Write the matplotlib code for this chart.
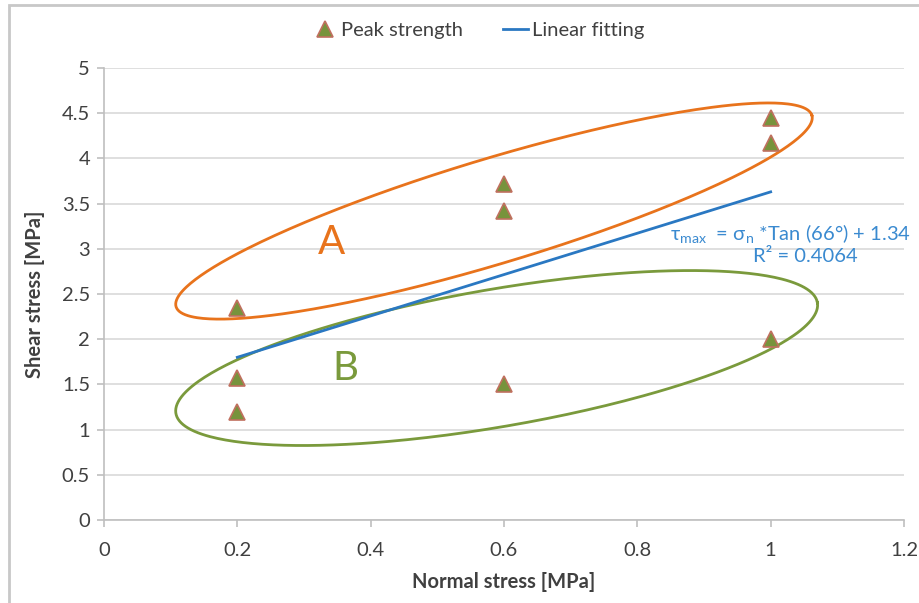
import numpy as np
import matplotlib
matplotlib.use('Agg')
import matplotlib.pyplot as plt
from matplotlib.patches import Rectangle

plt.rcParams['font.family'] = ['Lato', 'DejaVu Sans']

# =============================================================================
# Data
# =============================================================================
normal = [0.2, 0.2, 0.2, 0.6, 0.6, 0.6, 1.0, 1.0, 1.0]        # Normal stress [MPa]
shear = [2.35, 1.57, 1.20, 3.72, 3.42, 1.50, 4.45, 4.17, 2.00]  # Peak shear [MPa]

fit_x = [0.2, 1.0]    # linear fitting line ends
fit_y = [1.80, 3.63]

x_ticks = [0, 0.2, 0.4, 0.6, 0.8, 1.0, 1.2]
x_labels = ['0', '0.2', '0.4', '0.6', '0.8', '1', '1.2']
y_ticks = [0, 0.5, 1, 1.5, 2, 2.5, 3, 3.5, 4, 4.5, 5]
y_labels = ['0', '0.5', '1', '1.5', '2', '2.5', '3', '3.5', '4', '4.5', '5']

# group ellipses: centre (data), semi axes (px), angle (deg)
ellA = dict(c=(0.585, 3.418), a=332, b=52.5, ang=16.75)
ellB = dict(c=(0.589, 1.792), a=325.5, b=68.7, ang=9.8)

# =============================================================================
# Plot
# =============================================================================
fig = plt.figure(figsize=(9.2, 6.03), dpi=100)
ax = fig.add_axes([0.113, 0.1376, 0.8696, 0.7496])

ax.set_xlim(0, 1.2)
ax.set_ylim(0, 5)
ax.set_xticks(x_ticks)
ax.set_xticklabels(x_labels)
ax.set_yticks(y_ticks)
ax.set_yticklabels(y_labels)

ax.grid(True, axis='y', color='#d9d9d9', lw=1.2)
ax.set_axisbelow(True)
for s in ['top', 'right']:
    ax.spines[s].set_visible(False)
for s in ['left', 'bottom']:
    ax.spines[s].set_color('#bfbfbf')
    ax.spines[s].set_linewidth(1.2)
ax.tick_params(axis='both', colors='#bfbfbf', length=5, width=1.2,
               labelcolor='#404040', labelsize=14.5, pad=5)
ax.tick_params(axis='x', pad=11)

ax.plot(fit_x, fit_y, color='#2a78c2', lw=2, label='Linear fitting', zorder=3)
ax.plot(normal, shear, ls='none', marker='^', ms=11.5, mfc='#77933c',
        mec='#c0705f', mew=1.2, label='Peak strength', zorder=4)


def draw_ellipse(e, color):
    t = np.linspace(0, 2*np.pi, 400)
    th = np.deg2rad(e['ang'])
    cx, cy = ax.transData.transform(e['c'])
    px = cx + e['a']*np.cos(t)*np.cos(th) - e['b']*np.sin(t)*np.sin(th)
    py = cy + e['a']*np.cos(t)*np.sin(th) + e['b']*np.sin(t)*np.cos(th)
    pts = ax.transData.inverted().transform(np.column_stack([px, py]))
    ax.plot(pts[:, 0], pts[:, 1], color=color, lw=2, zorder=2, clip_on=False)


draw_ellipse(ellA, '#e8731c')
draw_ellipse(ellB, '#7a9a3c')

ax.text(0.342, 3.075, 'A', color='#e8731c', fontsize=29, ha='center', va='center')
ax.text(0.3615, 1.68, 'B', color='#7a9a3c', fontsize=29, ha='center', va='center')

ax.text(0.849, 3.17, 'τ$\\mathregular{_{max}}$  = σ$\\mathregular{_{n}}$ *Tan (66°) + 1.34',
        color='#3a8ad0', fontsize=14.5, ha='left', va='center', clip_on=False)
ax.text(1.0515, 2.91, 'R² = 0.4064', color='#3a8ad0', fontsize=14.5,
        ha='center', va='center', clip_on=False)

ax.set_xlabel('Normal stress [MPa]', fontsize=14.5, fontweight='bold',
              color='#404040', labelpad=9)
ax.set_ylabel('Shear stress [MPa]', fontsize=14.5, fontweight='bold',
              color='#404040', labelpad=12)

h, l = ax.get_legend_handles_labels()
fig.legend(h[::-1], l[::-1], loc='center', bbox_to_anchor=(0.52, 0.949), ncol=2,
           frameon=False, fontsize=14.5, handlelength=1.2, handletextpad=0.2,
           columnspacing=2.0, labelcolor='#404040')

# outer chart frame
fig.patches.append(Rectangle((9/920, -0.01), 1.1, 1 - 5/603 + 0.01,
                             transform=fig.transFigure, fill=False,
                             ec='#c8c8c8', lw=2))

fig.savefig('out.png', dpi=100)
